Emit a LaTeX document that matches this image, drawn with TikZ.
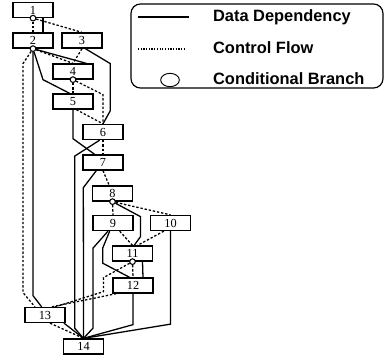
\documentclass[tikz,border=0pt]{standalone}
\usepackage{fontspec}
\setmainfont{Liberation Serif}
\newfontfamily\legendfont{Liberation Sans}
\usetikzlibrary{arrows.meta}

\begin{document}
\begin{tikzpicture}[x=0.3mm, y=-0.3mm,
  block/.style={draw, line width=1.1pt, minimum width=12mm, minimum height=4.5mm,
                inner sep=0pt, font=\fontsize{10.5}{12}\selectfont},
  data/.style={line width=1.1pt},
  ctrl/.style={line width=1.1pt, dash pattern=on 2pt off 1.6pt},
  branch/.style={circle, draw, fill=white, line width=0.9pt, inner sep=0pt, minimum size=1.7mm},
  legend/.style={anchor=west, font=\legendfont\bfseries\fontsize{14}{16}\selectfont}]
\useasboundingbox (0,0) rectangle (386,357);

% legend
\draw[line width=1pt, rounded corners=8pt] (131,4) rectangle (383,88);
\draw[data] (138,17) -- (189,17);
\draw[line width=1.1pt, dash pattern=on 1pt off 1.3pt] (138,49) -- (186,49);
\draw[line width=0.8pt] (170,80) ellipse [x radius=2.8mm, y radius=2mm];
\node[legend] (ldata) at (209,17) {Data Dependency};
\node[legend] (lctrl) at (209,48) {Control Flow};
\node[legend] (lbranch) at (209,79) {Conditional Branch};

% blocks
\node[block] (n1) at (33,10) {1};
\node[block] (n2) at (33,40.5) {2};
\node[block] (n3) at (82,40.5) {3};
\node[block] (n4) at (73,71.5) {4};
\node[block] (n5) at (73,101.5) {5};
\node[block] (n6) at (103,132) {6};
\node[block] (n7) at (103,162.5) {7};
\node[block] (n8) at (112.5,193.5) {8};
\node[block] (n9) at (113,223) {9};
\node[block] (n10) at (170.5,223) {10};
\node[block] (n11) at (132.5,253.5) {11};
\node[block] (n12) at (133,285.5) {12};
\node[block] (n13) at (45,315) {13};
\node[block] (n14) at (83.5,346.5) {14};

\node[branch] (c1) at (n1.south) {};
\node[branch] (c2) at (n2.south) {};
\node[branch] (c4) at (n4.south) {};
\node[branch] (c8) at (n8.south) {};
\node[branch] (c11) at (n11.south) {};

% data dependencies
\draw[data] ([xshift=3mm]n1.south) -- ([xshift=3mm]n2.north);
\draw[data] (c2) -- ++(0,247) -- ([xshift=-1mm]n13.north);
\draw[data] (c2) -- ++(10,31) -- ([xshift=-1mm]n5.north);
\draw[data] (c2) -- ([xshift=4mm]n4.north);
\draw[data] ([xshift=1mm]n3.south) -- ++(25,15) -- ++(0,47) -- (n6.north);
\draw[data] (n5.south) -- ++(0,29) -- ([xshift=-2.5mm]n7.north);
\draw[data] ([xshift=-1mm]n6.south) -- ++(-25,16) -- ++(0,172) -- (n14.north);
\draw[data] ([xshift=-2mm]n7.south) -- ++(-13,17) -- (n14.north);
\draw[data] ([xshift=-1.5mm]n9.south) -- ++(-15,17) -- ++(0,80) -- (n14.north);
\draw[data] ([xshift=-1mm]n9.south) -- ++(-7,17) -- ++(0,15) -- ([xshift=-1mm]n12.north);
\draw[data] (c8) -- ++(28,15) -- ++(0,20) -- ([xshift=0.5mm]n11.north);
\draw[data] ([xshift=3mm]n11.south) -- ([xshift=3mm]n12.north);
\draw[data] (n10.south) -- ++(0,93) -- (n14.north);
\draw[data] (n12.south) -- ++(0,31) -- (n14.north);
\draw[data] ([xshift=-0.5mm]n13.south east) -- (n14.north);

% control flow
\draw[ctrl] (c1) -- (n2.north);
\draw[ctrl] (c1) -- (n3.north);
\draw[ctrl] (c2) -- ++(-10,15) -- ++(0,229) -- ([xshift=-3mm]n13.north);
\draw[ctrl] (c2) -- (n4.north);
\draw[ctrl] (n3.south) -- (n4.north);
\draw[ctrl] (c4) -- (n5.north);
\draw[ctrl] (c4) -- ++(30,15) -- (n6.north);
\draw[ctrl] ([xshift=1mm]n5.south) -- (n6.north);
\draw[ctrl] (n6.south) -- (n7.north);
\draw[ctrl] (n7.south) -- ([xshift=-1mm]n8.north);
\draw[ctrl] (c8) -- (n9.north);
\draw[ctrl] (c8) -- (n10.north);
\draw[ctrl] ([xshift=2mm]n9.south) -- (n11.north);
\draw[ctrl] ([xshift=-2mm]n10.south) -- ([xshift=1.5mm]n11.north);
\draw[ctrl] (c11) -- (n12.north);
\draw[ctrl] (c11) -- ++(-29,16) -- ++(0,14) -- ([xshift=3mm]n13.north);
\draw[ctrl] ([xshift=-5mm]n12.south) -- ([xshift=2mm]n13.north);
\draw[ctrl] ([xshift=1.5mm]n13.south) -- (n14.north);
\end{tikzpicture}
\end{document}
